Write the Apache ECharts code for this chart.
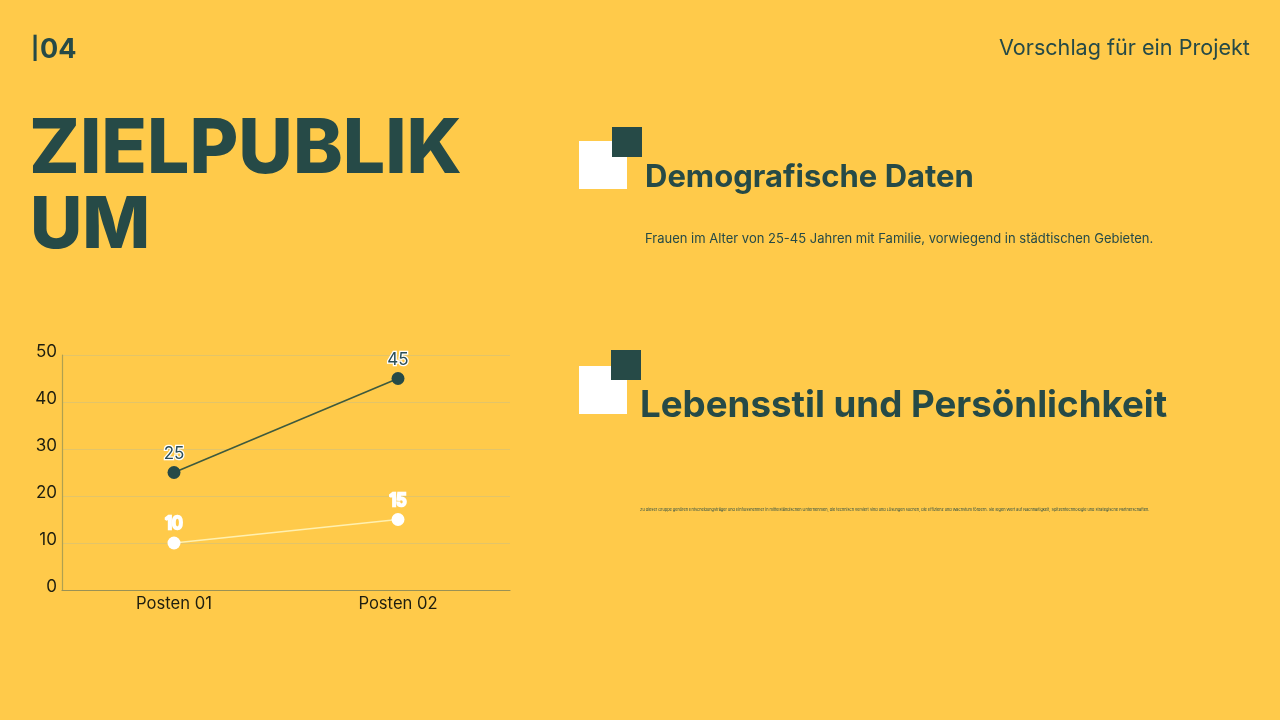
<!DOCTYPE html>
<html><head><meta charset="utf-8">
<style>html,body{margin:0;padding:0;background:#FFCA4A;overflow:hidden}#c{width:1280px;height:720px}</style>
<script src="https://cdn.jsdelivr.net/npm/echarts@6/dist/echarts.min.js"></script></head>
<body><div id="c"></div>
<script>
const categories=['Posten 01','Posten 02'];
const seriesDark=[25,45];
const seriesLight=[10,15];
const yTicks={min:0,max:50,interval:10};
const DARK='#264A47',FONT='Inter, "Noto Sans", sans-serif';
const chart=echarts.init(document.getElementById('c'),null,{renderer:'canvas'});
function txt(x,y,text,size,weight,color,extra){return {type:'text',x,y,style:Object.assign({text,fontSize:size,fontWeight:weight,fill:color||DARK,fontFamily:FONT,textVerticalAlign:'middle'},extra||{})};}
function rect(x,y,w,h,fill){return {type:'rect',shape:{x,y,width:w,height:h},style:{fill}};}
const body2='Zu dieser Gruppe gehören Entscheidungsträger und Einflussnehmer in mittelständischen Unternehmen, die technisch versiert sind und Lösungen suchen, die Effizienz und Wachstum fördern. Sie legen Wert auf Nachhaltigkeit, Spitzentechnologie und strategische Partnerschaften.';
function line(name,data,color,labelColor,labelStroke,lineColor){return {name,type:'line',data,symbol:'circle',symbolSize:13,
 lineStyle:{color:lineColor,width:1.6},itemStyle:{color},
 label:{show:true,position:'top',distance:4,fontSize:17,fontFamily:FONT,color:labelColor,textBorderColor:labelStroke,textBorderWidth:2.5}};}
chart.setOption({
 animation:false,backgroundColor:'#FFCA4A',
 grid:{left:62,right:770,top:355,bottom:130,containLabel:false},
 xAxis:{type:'category',data:categories,axisTick:{show:false},
  axisLine:{lineStyle:{color:'#9A9155',width:1.2}},
  axisLabel:{color:'#1E1E10',fontSize:16.6,fontFamily:FONT,margin:5}},
 yAxis:{type:'value',min:yTicks.min,max:yTicks.max,interval:yTicks.interval,
  axisLine:{show:true,lineStyle:{color:'#B0A050',width:1.2}},axisTick:{show:false},
  splitLine:{lineStyle:{color:'#E3C468',width:1}},
  axisLabel:{color:'#1E1E10',fontSize:17,fontFamily:FONT,margin:5,verticalAlign:'bottom',lineHeight:6}},
 series:[line('Dark',seriesDark,DARK,'#2C4F57','#FFFFFF','#3E5A3E'),line('Light',seriesLight,'#FFFFFF','#FFFFFF','#FFFFFF','#FFF0B0')],
 graphic:[
  txt(31,49,'|',22,700),
  txt(40,50,'04',27,700),
  txt(999,48,'Vorschlag für ein Projekt',21.6,400),
  txt(29,150,'ZIELPUBLIK',75,800),
  txt(30,226,'UM',72,800),
  rect(579,141,48,48,'#FFFFFF'),rect(612,127,30,30,DARK),
  txt(645,178,'Demografische Daten',31,700),
  txt(645,239,'Frauen im Alter von 25-45 Jahren mit Familie, vorwiegend in städtischen Gebieten.',13,400),
  rect(579,366,48,48,'#FFFFFF'),rect(611,350,30,30,DARK),
  txt(640,406,'Lebensstil und Persönlichkeit',36.7,700),
  txt(640,510,body2,3.86,400)
 ]
});
</script></body></html>
